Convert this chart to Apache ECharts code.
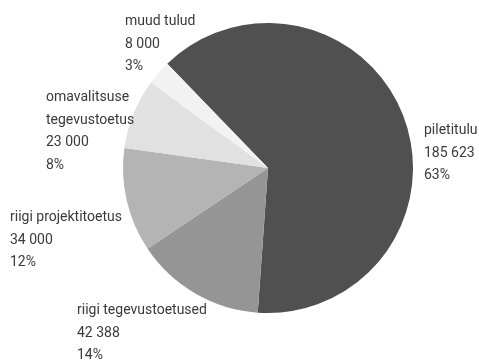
<!DOCTYPE html>
<html>
<head>
<meta charset="utf-8">
<script src="https://cdn.jsdelivr.net/npm/echarts@6/dist/echarts.min.js"></script>
<style>html,body{margin:0;padding:0;background:#fff}#c{width:479px;height:360px}</style>
</head>
<body>
<div id="c"></div>
<script>
var categories = ['piletitulu', 'riigi tegevustoetused', 'riigi projektitoetus', 'omavalitsuse\ntegevustoetus', 'muud tulud'];
var values = [185623, 42388, 34000, 23000, 8000];
var valueLabels = ['185 623', '42 388', '34 000', '23 000', '8 000'];
var percentLabels = ['63%', '14%', '12%', '8%', '3%'];

var colors = ['#505050', '#959595', '#b4b4b4', '#e1e1e1', '#f2f2f2'];
// label anchor (top-left) positions
var labelAnchors = [[424, 119], [77, 299], [10, 206], [46, 86], [125, 10]];

var chart = echarts.init(document.getElementById('c'), null, {renderer: 'canvas'});
chart.setOption({
  animation: false,
  backgroundColor: '#fff',
  series: [{
    type: 'pie',
    center: [268, 168],
    radius: 145,
    startAngle: 134,
    clockwise: true,
    data: categories.map(function (c, i) {
      return {name: c, value: values[i], itemStyle: {color: colors[i]}};
    }),
    label: {
      show: true,
      position: 'outside',
      align: 'left',
      overflow: 'none',
      width: 200,
      fontFamily: 'Roboto, sans-serif',
      fontSize: 14,
      lineHeight: 22.7,
      color: '#3a3a3a',
      formatter: function (p) {
        return categories[p.dataIndex] + '\n' + valueLabels[p.dataIndex] + '\n' + percentLabels[p.dataIndex];
      }
    },
    labelLine: {show: false},
    labelLayout: function (p) {
      var a = labelAnchors[p.dataIndex];
      return {x: a[0], y: a[1], align: 'left', verticalAlign: 'top'};
    },
    emphasis: {disabled: true}
  }]
});
</script>
</body>
</html>
